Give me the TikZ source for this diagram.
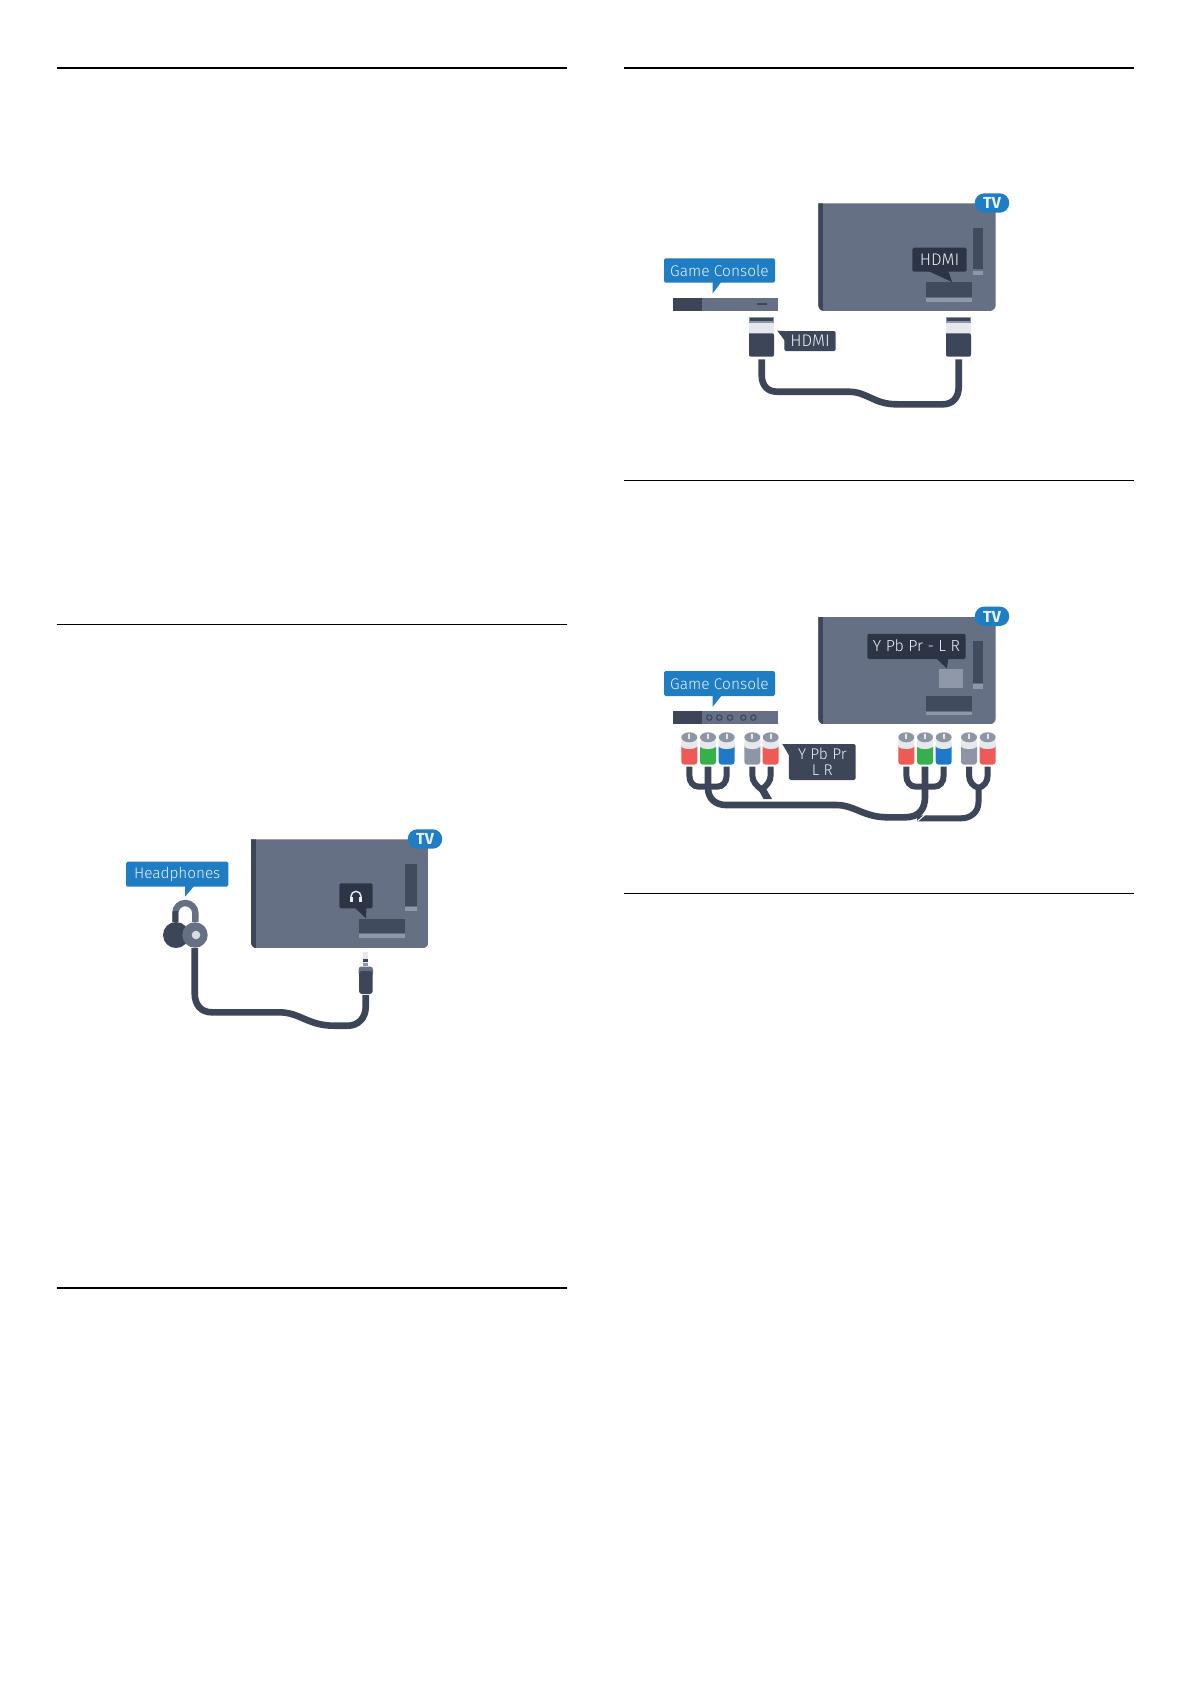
\documentclass[tikz,border=0pt]{standalone}
\usepackage{fontspec}
\setmainfont{Fira Sans Light}
\newfontfamily\badgefont{Fira Sans}
\definecolor{screen}{HTML}{667085}
\definecolor{darkslot}{HTML}{414B5E}
\definecolor{cablec}{HTML}{3D4659}
\definecolor{calloutc}{HTML}{2C3445}
\definecolor{barc}{HTML}{8F98A8}
\definecolor{lightc}{HTML}{E6E8EC}
\definecolor{bluec}{HTML}{1F7DC4}
\definecolor{redc}{HTML}{EE5A55}
\definecolor{greenc}{HTML}{35B04A}
\definecolor{rcablue}{HTML}{1F78C8}
\definecolor{greyc}{HTML}{8E96A5}
\definecolor{textc}{HTML}{EAF0F6}
\tikzset{
  rulethick/.style={draw=black,line width=2.3pt},
  rulethin/.style={draw=black,line width=1.3pt},
  cable/.style={draw=cablec,line width=6.6pt},
  thincable/.style={draw=cablec,line width=6pt},
  bubble/.style={rectangle,rounded corners=1.6pt,inner sep=0pt,text=textc,font=\fontsize{15.5}{15.6}\selectfont,align=center},
  blueb/.style={bubble,fill=bluec},
  darkb/.style={bubble,fill=calloutc},
  cableb/.style={bubble,fill=cablec},
  hdmifont/.style={font=\fontsize{16.8}{17}\selectfont},
}
\newcommand{\tvset}[1]{%
  \begin{scope}
    \clip (0,0) -- (177.4,0) [rounded corners=6pt] -- (177.4,#1) -- (0,#1) [sharp corners] -- cycle;
    \fill[screen] (0,0) rectangle (177.4,#1);
    \fill[cablec] (0,0) rectangle (4.7,#1);
  \end{scope}
}
\newcommand{\tvbadge}[3]{% name, x, y
  \node[blueb,rounded corners=9.6pt,minimum width=34.5pt,minimum height=19.4pt,text depth=0pt,font=\badgefont\fontsize{16}{16}\bfseries\selectfont] (#1) at (#2,#3) {\raisebox{-0.7pt}{TV}};
}
\newcommand{\hdmiplug}[2]{% x left, y top
  \begin{scope}[shift={(#1,#2)}]
    \fill[lightc] (0,0) rectangle (25,17);
    \fill[barc] (0,0.3) rectangle (25,6);
    \fill[cablec] (1,1.5) rectangle (24,4.5);
    \fill[cablec,rounded corners=2pt] (0,16.6) -- (0,40) -- (25,40) -- (25,16.6) [sharp corners] -- cycle;
  \end{scope}
}
\newcommand{\rcaplug}[2]{% centre x, colour
  \begin{scope}[shift={(#1,737.3)}]
    \fill[#2,rounded corners=3pt] (-8,6) rectangle (8,27.3);
    \fill[lightc] (-8,3) -- (-8,9.5) .. controls (-5,12.5) and (5,12.5) .. (8,9.5) -- (8,3) -- cycle;
    \fill[greyc] (0,0) ellipse [x radius=8pt,y radius=5pt];
    \draw[lightc,line width=2pt,line cap=round] (0,-3) -- (0,1);
  \end{scope}
}
\begin{document}
\begin{tikzpicture}[x=1pt,y=-1pt]
\useasboundingbox (0,0) rectangle (1191,1684);
\fill[white] (0,0) rectangle (1191,1684);
% rules
\coordinate (r1a) at (57,67.7);   \coordinate (r1b) at (567,67.7);
\coordinate (r2a) at (57,624.3);  \coordinate (r2b) at (567,624.3);
\coordinate (r3a) at (57,1288);   \coordinate (r3b) at (567,1288);
\coordinate (r4a) at (624,67.7);  \coordinate (r4b) at (1134,67.7);
\coordinate (r5a) at (624,480.3); \coordinate (r5b) at (1134,480.3);
\coordinate (r6a) at (624,893.3); \coordinate (r6b) at (1134,893.3);
\draw[rulethick] (r1a) -- (r1b);
\draw[rulethin]  (r2a) -- (r2b);
\draw[rulethick] (r3a) -- (r3b);
\draw[rulethick] (r4a) -- (r4b);
\draw[rulethin]  (r5a) -- (r5b);
\draw[rulethin]  (r6a) -- (r6b);

%% ---------- HDMI diagram
\begin{scope}[shift={(818.3,203.3)}]
  \tvset{107.7}
  \fill[darkslot] (154.4,25) rectangle (165,66);
  \fill[barc] (154.4,67.7) rectangle (165,71.7);
  \fill[darkslot] (107.7,79) rectangle (154,94);
  \fill[barc] (107.7,95) rectangle (154,98.4);
\end{scope}
\tvbadge{tva}{992}{203}
\fill[calloutc] (926,270) -- (952,282) -- (948,270) -- cycle;
\node[darkb,hdmifont,minimum width=54.4pt,minimum height=24pt] (hdmia) at (939.5,259.7) {HDMI};
\fill[bluec] (712.7,281) -- (712.7,293.3) -- (722,281) -- cycle;
\node[blueb,minimum width=111pt,minimum height=24.4pt] (gca) at (719.5,270.5) {Game Console};
\fill[screen] (672.7,297.7) rectangle (778.3,311);
\fill[cablec] (672.7,297.7) rectangle (701.7,311);
\fill[cablec] (756.7,303.3) rectangle (766.7,305.3);
\hdmiplug{749}{316.7}
\hdmiplug{946}{316.7}
\coordinate (hl) at (761.7,359.3);
\coordinate (hr) at (958.7,359.3);
\draw[cable] (hl) -- (761.7,375) .. controls (761.7,386) and (768,391.7) .. (777,391.7) -- (848,391.7) .. controls (868,391.7) and (873,404.3) .. (897,404.3) -- (943,404.3) .. controls (952,404.3) and (958.7,398) .. (958.7,387) -- (hr);
\fill[cablec] (777.3,330.7) -- (785,331) -- (785,341) -- cycle;
\node[cableb,hdmifont,minimum width=51.4pt,minimum height=20pt] (hdmib) at (810,341) {HDMI};

%% ---------- YPbPr diagram
\begin{scope}[shift={(818.3,616.7)}]
  \tvset{107.6}
  \fill[darkslot] (154.4,24.3) rectangle (165,66);
  \fill[barc] (154.4,67.3) rectangle (165,72);
  \fill[darkslot] (107.7,79) rectangle (154,94);
  \fill[barc] (107.7,95) rectangle (154,98.3);
  \fill[barc] (121,52.3) rectangle (145,71.6);
\end{scope}
\tvbadge{tvb}{992}{616.3}
\fill[calloutc] (936,658) -- (946.7,668.3) -- (948.5,658) -- cycle;
\node[darkb,minimum width=98.4pt,minimum height=25.3pt,font=\fontsize{16}{16}\selectfont] (ypa) at (916.5,646.4) {\raisebox{0.8pt}{Y Pb Pr - L R}};
\fill[bluec] (712.7,695) -- (712.7,706.7) -- (722,695) -- cycle;
\node[blueb,minimum width=111pt,minimum height=25pt] (gcb) at (719.5,683.5) {Game Console};
\fill[screen] (672.7,711) rectangle (778.3,724.3);
\fill[cablec] (672.7,711) rectangle (701.7,724.3);
\foreach \dx in {709.3,719.3,730,743.3,753.3}
  \draw[cablec,line width=1.1pt] (\dx,717.6) circle [radius=2.7pt];
\coordinate (c1) at (689.3,766.7); \coordinate (c2) at (708,766.7); \coordinate (c3) at (726.7,766.7);
\coordinate (c4) at (752.3,766.7); \coordinate (c5) at (770.7,766.7);
\coordinate (d1) at (906.3,766.7); \coordinate (d2) at (925,766.7); \coordinate (d3) at (943.7,766.7);
\coordinate (d4) at (969,766.7);   \coordinate (d5) at (987.7,766.7);
\draw[thincable] (c1) -- (689.3,775) .. controls (689.3,782) and (693,786.7) .. (699,786.7) -- (717,786.7) .. controls (723,786.7) and (726.7,782) .. (726.7,775) -- (c3);
\draw[thincable] (c4) -- (752.3,775) .. controls (752.3,782) and (757,786) .. (761.5,789.5);
\draw[thincable] (c5) -- (770.7,775) .. controls (770.7,782) and (766,786) .. (761.5,789.5);
\fill[cablec] (757,787) -- (764,785) -- (772,799) -- (763.5,799) -- cycle;
\draw[thincable] (d1) -- (906.3,775) .. controls (906.3,782) and (910,786.7) .. (916,786.7) -- (934,786.7) .. controls (940,786.7) and (943.7,782) .. (943.7,775) -- (d3);
\draw[thincable] (d4) -- (969,775) .. controls (969,782) and (973,786) .. (978.5,788);
\draw[thincable] (d5) -- (987.7,775) .. controls (987.7,782) and (984,786) .. (978.5,788);
\draw[thincable] (978.5,786) -- (978.5,802) .. controls (978.5,812) and (971,818.3) .. (961,818.3) -- (917,818.3);
\draw[draw=white,line width=1pt] (917.5,821.2) -- (924.5,815);
\draw[cable] (c2) -- (708,788) .. controls (708,799) and (716,805) .. (726,805) -- (836,805) .. controls (855,805) and (863,817.3) .. (888,817.3) -- (905,817.3) .. controls (919,817.3) and (925,809) .. (925,797) -- (d2);
\rcaplug{689.3}{redc}
\rcaplug{708}{greenc}
\rcaplug{726.7}{rcablue}
\rcaplug{752.3}{greyc}
\rcaplug{770.7}{redc}
\rcaplug{906.3}{redc}
\rcaplug{925}{greenc}
\rcaplug{943.7}{rcablue}
\rcaplug{969}{greyc}
\rcaplug{987.7}{redc}
\fill[cablec] (782.3,744) -- (790,744) -- (790,757) -- cycle;
\node[cableb,minimum width=66.7pt,minimum height=36pt] (ypb) at (822.3,762) {\raisebox{0.8pt}{Y Pb Pr}\\\raisebox{0.8pt}{L R}};

%% ---------- Headphones diagram
\begin{scope}[shift={(251,839.3)}]
  \tvset{109}
  \fill[darkslot] (154,24.7) rectangle (165.7,66.7);
  \fill[barc] (154,68) rectangle (165.7,71.7);
  \fill[darkslot] (108,79.7) rectangle (154,94);
  \fill[barc] (108,95) rectangle (154,98.4);
\end{scope}
\tvbadge{tvc}{425}{839}
\fill[calloutc] (354,907) -- (366,918.3) -- (366.5,907) -- cycle;
\node[darkb,minimum width=33.4pt,minimum height=25pt] (hpbox) at (356,895.8) {};
\draw[textc,line width=1.4pt] (351,901) -- (351,896.3) arc [start angle=180,end angle=0,radius=5pt] -- (361,901);
\fill[textc] (350.3,897.3) rectangle (353.3,902.3);
\fill[textc] (358.7,897.3) rectangle (361.7,902.3);
\fill[bluec] (185,885) -- (185,896.7) -- (195,885) -- cycle;
\node[blueb,minimum width=102.3pt,minimum height=25pt,font=\fontsize{15.3}{15.6}\selectfont] (hplabel) at (177.2,874.2) {Headphones};
% earphones
\draw[screen,line width=6.4pt] (175.3,922) -- (175.3,913) arc [start angle=180,end angle=0,radius=10pt] -- (195.3,922);
\draw[cablec,line width=5.4pt] (175.3,922) -- (175.3,911);
\fill[cablec] (176,935) circle [radius=13pt];
\fill[screen] (195,935) circle [radius=12.7pt];
\fill[lightc!85!barc] (196,935) circle [radius=4.3pt];
% jack
\fill[lightc] (363.2,952) rectangle (368.2,966);
\fill[cablec] (363.2,959) rectangle (368.2,962);
\fill[barc] (363.2,963) rectangle (368.2,966);
\fill[screen,rounded corners=3pt] (358.5,966.5) rectangle (373,976);
\fill[cablec,rounded corners=3pt] (359,971) rectangle (372.7,994);
\coordinate (ja) at (194.7,948);
\coordinate (jb) at (365.7,995);
\draw[cable] (ja) -- (194.7,993) .. controls (194.7,1005) and (201,1012.3) .. (212,1012.3) -- (279,1012.3) .. controls (300,1012.3) and (308,1025.7) .. (334,1025.7) -- (348,1025.7) .. controls (358,1025.7) and (365.7,1018) .. (365.7,1007) -- (jb);
\end{tikzpicture}
\end{document}
